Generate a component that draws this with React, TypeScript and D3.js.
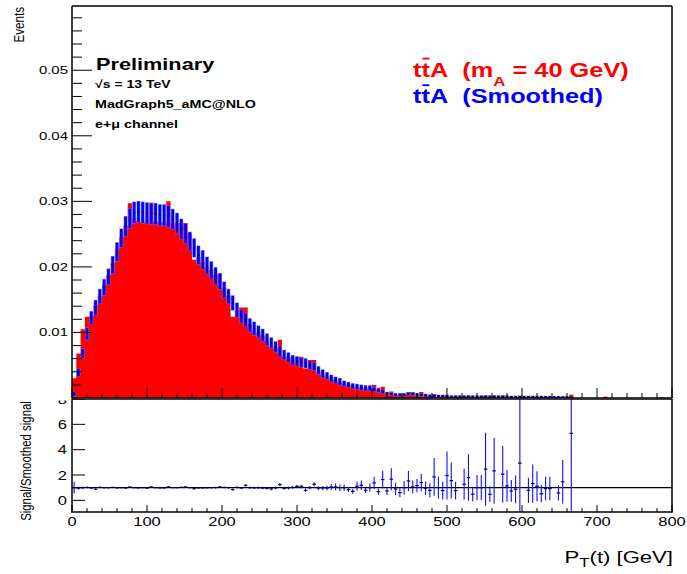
import React from "react";
import * as d3 from "d3";

// ---------------- data ----------------
const X_MIN = 0;
const X_MAX = 800;
const N_BINS = 140;

// red: signal ttA (mA = 40 GeV), per 5.714 GeV bin
const signal = [
  0.0030, 0.0068, 0.0105, 0.0124, 0.0125, 0.0142, 0.0156, 0.0173, 0.0188, 0.0206,
  0.0227, 0.0246, 0.0263, 0.0297, 0.0275, 0.0270, 0.0268, 0.0272, 0.0298, 0.0270,
  0.0268, 0.0268, 0.0300, 0.0267, 0.0267, 0.0267, 0.0267, 0.0251, 0.0211, 0.0215,
  0.0208, 0.0200, 0.0195, 0.0188, 0.0190, 0.0168, 0.0156, 0.0124, 0.0134, 0.0138,
  0.0138, 0.0112, 0.0104, 0.0100, 0.0095, 0.0088, 0.0078, 0.0076, 0.0089, 0.0064,
  0.0062, 0.0060, 0.0063, 0.0063, 0.0045, 0.0058, 0.0058, 0.0040, 0.0036, 0.0033,
  0.0030, 0.0027, 0.0024, 0.0022, 0.0020, 0.0018, 0.0017, 0.0016, 0.0014, 0.0016,
  0.0020, 0.0013, 0.0017, 0.0007, 0.0010, 0.0005, 0.0004, 0.0005, 0.0009, 0.0009,
  0.0004, 0.0009, 0.0004, 0.0003, 0.0006, 0.0002, 0.0003, 0.0004, 0.0002, 0.0003,
  0.0000, 0.0002, 0.0004, 0.0001, 0.0002, 0.0002, 0.0004, 0.0001, 0.0004, 0.0000,
  0.0004, 0.0002, 0.0001, 0.0001, 0.0004, 0.0000, 0.0001, 0.0002, 0.0002, 0.0001,
  0.0001, 0.0001, 0.0000, 0.0001, 0.0002, 0.0000, 0.0005, 0.0000, 0.0000, 0.0000,
  0.0000, 0.0000, 0.0000, 0.0000, 0.0002, 0.0000, 0.0000, 0.0000, 0.0000, 0.0000,
  0.0000, 0.0000, 0.0000, 0.0000, 0.0000, 0.0000, 0.0000, 0.0001, 0.0000, 0.0000,
];

// blue: smoothed ttA
const smoothed = [
  0.0006, 0.0039, 0.0068, 0.0098, 0.0122, 0.0138, 0.0155, 0.0169, 0.0185, 0.0203,
  0.0223, 0.0244, 0.0262, 0.0274, 0.0283, 0.0284, 0.0283, 0.0282, 0.0281, 0.0281,
  0.0279, 0.0279, 0.0277, 0.0273, 0.0267, 0.0258, 0.0251, 0.0239, 0.0229, 0.0218,
  0.0211, 0.0202, 0.0195, 0.0186, 0.0178, 0.0165, 0.0155, 0.0145, 0.0134, 0.0125,
  0.0119, 0.0111, 0.0106, 0.0101, 0.0096, 0.0089, 0.0084, 0.0078, 0.0071, 0.0066,
  0.0062, 0.0058, 0.0056, 0.0054, 0.0053, 0.0050, 0.0048, 0.0042, 0.0037, 0.0034,
  0.0030, 0.0027, 0.0025, 0.0022, 0.0020, 0.0018, 0.0017, 0.0016, 0.0015, 0.0015,
  0.0013, 0.0012, 0.0010, 0.0007, 0.0006, 0.0005, 0.0005, 0.0005, 0.0006, 0.0006,
  0.0005, 0.0005, 0.0004, 0.0003, 0.0003, 0.0003, 0.0003, 0.0003, 0.0002, 0.0002,
  0.0002, 0.0002, 0.0002, 0.0002, 0.0002, 0.0002, 0.0002, 0.0002, 0.0002, 0.0002,
  0.0002, 0.0002, 0.00015, 0.00015, 0.00015, 0.00015, 0.00015, 0.00015, 0.00015, 0.00015,
  0.00015, 0.00015, 0.0001, 0.0001, 0.0001, 0.0001, 0.0001, 0, 0, 0,
  0, 0, 0, 0, 0, 0, 0, 0, 0, 0,
  0, 0, 0, 0, 0, 0, 0, 0, 0, 0,
];

const smoothedErr = [
  0.0003, 0.0006, 0.0007, 0.0009, 0.0010, 0.0011, 0.0011, 0.0012, 0.0012, 0.0013,
  0.0014, 0.0014, 0.0015, 0.0015, 0.0016, 0.0016, 0.0016, 0.0016, 0.0016, 0.0016,
  0.0016, 0.0016, 0.0016, 0.0015, 0.0015, 0.0015, 0.0015, 0.0014, 0.0014, 0.0014,
  0.0014, 0.0013, 0.0013, 0.0013, 0.0012, 0.0012, 0.0011, 0.0011, 0.0011, 0.0010,
  0.0010, 0.0010, 0.0010, 0.0009, 0.0009, 0.0009, 0.0008, 0.0008, 0.0008, 0.0007,
  0.0007, 0.0007, 0.0007, 0.0007, 0.0007, 0.0006, 0.0006, 0.0006, 0.0006, 0.0005,
  0.0005, 0.0005, 0.0005, 0.0004, 0.0004, 0.0004, 0.0004, 0.0004, 0.0004, 0.0004,
  0.0003, 0.0003, 0.0003, 0.0002, 0.0002, 0.0002, 0.0002, 0.0002, 0.0002, 0.0002,
  0.0002, 0.0002, 0.0002, 0.0002, 0.0002, 0.00015, 0.00015, 0.00015, 0.00015, 0.00015,
  0.00015, 0.00015, 0.00015, 0.00015, 0.00015, 0.00015, 0.00015, 0.00015, 0.00015, 0.00015,
  0.00015, 0.00015, 0.00015, 0.00015, 0.00015, 0.00015, 0.00015, 0.00015, 0.00015, 0.00015,
  0.00015, 0.00015, 0.00015, 0.00015, 0.00015, 0.00015, 0.00015, 0, 0, 0,
  0, 0, 0, 0, 0, 0, 0, 0, 0, 0,
  0, 0, 0, 0, 0, 0, 0, 0, 0, 0,
];

// ratio panel: Signal / Smoothed signal (null = no point)
const ratio = [
  1.0, 0.95, 1.0, 1.02, 0.97, 0.88, 1.02, 1.0, 1.0, 1.02,
  0.98, 1.0, 0.97, 1.05, 1.0, 0.98, 1.0, 0.96, 1.06, 1.0,
  0.98, 0.98, 1.06, 1.0, 1.0, 1.03, 1.06, 1.0, 0.92, 0.98,
  0.98, 0.99, 1.0, 1.01, 1.06, 1.02, 1.0, 0.85, 1.02, 0.97,
  1.19, 1.0, 0.98, 0.99, 0.97, 0.95, 0.9, 0.98, 1.24, 0.95,
  0.98, 1.02, 1.1, 1.1, 0.79, 1.0, 1.27, 0.95, 0.97, 0.97,
  1.06, 1.06, 1.0, 1.0, 0.85, 0.71, 1.11, 1.19, 0.79, 1.0,
  1.38, 0.69, 1.64, 0.74, 1.67, 0.9, 0.61, 1.0, 1.53, 1.06,
  1.16, 1.4, 0.95, 0.79, 1.85, 1.0, 0.77, 1.96, 1.56, 0.77,
  null, 1.27, 1.8, 0.48, 1.0, 1.0, 2.46, 0.48, 2.33, null,
  2.06, 1.14, 0.74, 0.87, 2.94, null, 0.79, 1.32, 1.11, 0.53,
  0.93, 0.93, null, 0.58, 1.46, null, 5.29,
];

const ratioErr = [
  0.46, 0.12, 0.1, 0.08, 0.07, 0.07, 0.07, 0.06, 0.06, 0.06,
  0.05, 0.05, 0.05, 0.05, 0.05, 0.05, 0.05, 0.05, 0.05, 0.05,
  0.05, 0.05, 0.05, 0.05, 0.05, 0.05, 0.06, 0.06, 0.06, 0.06,
  0.06, 0.06, 0.06, 0.07, 0.07, 0.07, 0.07, 0.08, 0.08, 0.08,
  0.09, 0.09, 0.09, 0.1, 0.1, 0.1, 0.1, 0.11, 0.12, 0.12,
  0.12, 0.13, 0.13, 0.14, 0.14, 0.14, 0.15, 0.16, 0.17, 0.18,
  0.24, 0.26, 0.26, 0.26, 0.19, 0.19, 0.36, 0.37, 0.21, 0.33,
  0.48, 0.24, 0.7, 0.32, 0.87, 0.49, 0.37, 0.53, 0.79, 0.5,
  0.53, 0.69, 0.53, 0.56, 1.49, 0.86, 0.7, 1.89, 1.42, 0.7,
  0, 1.22, 1.83, 0.56, 1.0, 1.0, 2.88, 0.62, 2.6, 0,
  2.25, 1.26, 0.86, 1.1, 9.0, 0, 1.0, 1.5, 1.18, 0.69,
  0.93, 0.93, 0, 0.6, 1.72, 0, 9.0,
];

const upperYTicks = [0.01, 0.02, 0.03, 0.04, 0.05];
const ratioYTicks = [0, 2, 4, 6, 8];
const xTickLabels = [0, 100, 200, 300, 400, 500, 600, 700, 800];

// ---------------- layout ----------------
const W = 687;
const H = 574;
const L = 72;
const R = 672;
const UP_TOP = 6;
const UP_BOT = 398;
const LO_TOP = 399;
const LO_BOT = 512;
const SX = 1.3;
const FONT = "'Liberation Sans', Arial, Helvetica, sans-serif";
const NB = "\u00A0";

const x = d3.scaleLinear().domain([X_MIN, X_MAX]).range([L, R]);
const yTop = d3.scaleLinear().domain([0, 0.0598]).range([UP_BOT, UP_TOP]);
const yRat = d3.scaleLinear().domain([-0.92, 8]).range([LO_BOT, LO_TOP]);
const binW = (X_MAX - X_MIN) / N_BINS;
const lowEdge = (i: number) => X_MIN + i * binW;
const center = (i: number) => X_MIN + (i + 0.5) * binW;

function Txt(props: any) {
  const { x: tx, y: ty, size, anchor = "start", weight = "normal", fill = "#000", rot = false, children } = props;
  const tr = rot
    ? `translate(${tx},${ty}) scale(${SX},1) rotate(-90)`
    : `translate(${tx},${ty}) scale(${SX},1)`;
  return (
    <text transform={tr} fontSize={size} textAnchor={anchor} fontWeight={weight} fill={fill} fontFamily={FONT}>
      {children}
    </text>
  );
}

export default function App() {
  const area = d3
    .area<number>()
    .x((_, i) => x(lowEdge(i)))
    .y0(yTop(0))
    .y1((d) => yTop(d))
    .curve(d3.curveStepAfter);
  const redPath = area([...signal, 0]) || "";

  const minorX = d3.range(0, 801, 20);
  const minorY = d3.range(0.002, 0.0599, 0.002);

  const legendFs = 19.5;
  const tW = 0.333 * legendFs * SX;
  const legendX = 413;

  return (
    <svg width={W} height={H} style={{ position: "fixed", left: 0, top: 0 }} xmlns="http://www.w3.org/2000/svg">
      <defs>
        <clipPath id="clipUp">
          <rect x={L} y={UP_TOP} width={R - L} height={UP_BOT - UP_TOP} />
        </clipPath>
        <clipPath id="clipLo">
          <rect x={L} y={LO_TOP} width={R - L} height={LO_BOT - LO_TOP} />
        </clipPath>
        <clipPath id="clipLoLabels">
          <rect x={0} y={400.5} width={L} height={H - 400.5} />
        </clipPath>
      </defs>
      <rect x={0} y={0} width={W} height={H} fill="#fff" />

      {/* ---------- ratio panel ---------- */}
      <g>
        <line x1={x(0)} x2={x(800)} y1={yRat(1)} y2={yRat(1)} stroke="#000" strokeWidth={1.2} />
        <g clipPath="url(#clipLo)">
          {ratio.map((r, i) =>
            r === null ? null : (
              <g key={i}>
                <line
                  x1={x(center(i))}
                  x2={x(center(i))}
                  y1={yRat(r - ratioErr[i])}
                  y2={yRat(r + ratioErr[i])}
                  stroke="#1010ff"
                  strokeWidth={1.1}
                />
                <line
                  x1={x(center(i)) - 1.8}
                  x2={x(center(i)) + 1.8}
                  y1={yRat(r)}
                  y2={yRat(r)}
                  stroke="#00007a"
                  strokeWidth={1.2}
                />
              </g>
            )
          )}
        </g>
        <rect x={L} y={LO_TOP} width={R - L} height={LO_BOT - LO_TOP} fill="none" stroke="#000" strokeWidth={1.5} />
        {minorX.map((v) => (
          <line key={"lx" + v} x1={x(v)} x2={x(v)} y1={LO_BOT} y2={LO_BOT - (v % 100 === 0 ? 7 : 4)} stroke="#000" strokeWidth={1} />
        ))}
        {ratioYTicks.map((v) => (
          <line key={"ly" + v} x1={L} x2={L + 13} y1={yRat(v)} y2={yRat(v)} stroke="#000" strokeWidth={1} />
        ))}
        <g clipPath="url(#clipLoLabels)">
          {ratioYTicks.map((v) => (
            <Txt key={"lyl" + v} x={67} y={yRat(v) + 4.7} size={12.7} anchor="end">
              {String(v)}
            </Txt>
          ))}
        </g>
        {xTickLabels.map((v) => (
          <Txt key={"lxl" + v} x={x(v)} y={526} size={12.7} anchor="middle">
            {String(v)}
          </Txt>
        ))}
        <Txt x={30.5} y={461} size={11.4} anchor="middle" rot>
          Signal/Smoothed signal
        </Txt>
      </g>

      {/* ---------- upper pad ---------- */}
      <rect x={0} y={0} width={W} height={UP_BOT + 0.5} fill="#fff" />
      <g clipPath="url(#clipUp)">
        <path d={redPath} fill="#ff0000" />
        {smoothed.map((v, i) =>
          v <= 0 ? null : (
            <g key={"b" + i}>
              <rect
                x={x(center(i)) - 2}
                width={4}
                y={yTop(v + smoothedErr[i]) - 0.5}
                height={Math.max(1.5, yTop(v - smoothedErr[i]) - yTop(v + smoothedErr[i]) + 1)}
                fill="#8080ff"
                opacity={0.7}
              />
              <rect
                x={x(center(i)) - 1.4}
                width={2.8}
                y={yTop(v + smoothedErr[i])}
                height={Math.max(1, yTop(v - smoothedErr[i]) - yTop(v + smoothedErr[i]))}
                fill="#0000ff"
              />
              <rect x={x(center(i)) - 1} width={2} y={yTop(v) - 0.8} height={1.6} fill="#00006e" />
            </g>
          )
        )}
      </g>
      {/* frame */}
      <line x1={L} x2={R} y1={UP_TOP} y2={UP_TOP} stroke="#000" strokeWidth={1.5} />
      <line x1={R} x2={R} y1={UP_TOP} y2={UP_BOT} stroke="#000" strokeWidth={1.5} />
      <line x1={L} x2={L} y1={UP_TOP} y2={UP_BOT} stroke="#000" strokeWidth={1.5} />
      <line x1={L} x2={R} y1={UP_BOT} y2={UP_BOT} stroke="#000" strokeWidth={1.5} />
      {minorX.map((v) => (
        <line key={"ux" + v} x1={x(v)} x2={x(v)} y1={UP_BOT} y2={UP_BOT - (v % 100 === 0 ? 10 : 5)} stroke="#000" strokeWidth={1} />
      ))}
      {minorY.map((v, k) => (
        <line
          key={"uy" + k}
          x1={L}
          x2={L + ((k + 1) % 5 === 0 ? 20 : 10)}
          y1={yTop(v)}
          y2={yTop(v)}
          stroke="#000"
          strokeWidth={1}
        />
      ))}
      {upperYTicks.map((v) => (
        <Txt key={"uyl" + v} x={68} y={yTop(v) + 4} size={11.5} anchor="end">
          {String(v)}
        </Txt>
      ))}
      <Txt x={24} y={7} size={11.6} anchor="end" rot>
        Events
      </Txt>

      {/* annotations */}
      <Txt x={96} y={69.5} size={16.7} weight="bold">
        Preliminary
      </Txt>
      <Txt x={95} y={87.5} size={10.8} weight="bold">
        √s = 13 TeV
      </Txt>
      <Txt x={95} y={107.5} size={11} weight="bold">
        MadGraph5_aMC@NLO
      </Txt>
      <Txt x={95} y={127.5} size={11} weight="bold">
        e+μ channel
      </Txt>

      {/* legend */}
      <Txt x={legendX} y={76.7} size={legendFs} weight="bold" fill="#ff0000">
        <tspan>{"ttA" + NB + NB + "(m"}</tspan>
        <tspan dy={9.6} fontSize={13}>A</tspan>
        <tspan dy={-9.6}>{NB + "= 40 GeV)"}</tspan>
      </Txt>
      <line x1={legendX + tW + 1} x2={legendX + 2 * tW - 0.5} y1={58.6} y2={58.6} stroke="#ff0000" strokeWidth={1.8} />
      <Txt x={legendX} y={103.3} size={legendFs} weight="bold" fill="#0000ff">
        {"ttA" + NB + NB + "(Smoothed)"}
      </Txt>
      <line x1={legendX + tW + 1} x2={legendX + 2 * tW - 0.5} y1={85.2} y2={85.2} stroke="#0000ff" strokeWidth={1.8} />

      {/* x axis title */}
      <Txt x={673} y={563} size={17} anchor="end">
        <tspan>P</tspan>
        <tspan dy={4} fontSize={13}>T</tspan>
        <tspan dy={-4}>(t) [GeV]</tspan>
      </Txt>
    </svg>
  );
}
